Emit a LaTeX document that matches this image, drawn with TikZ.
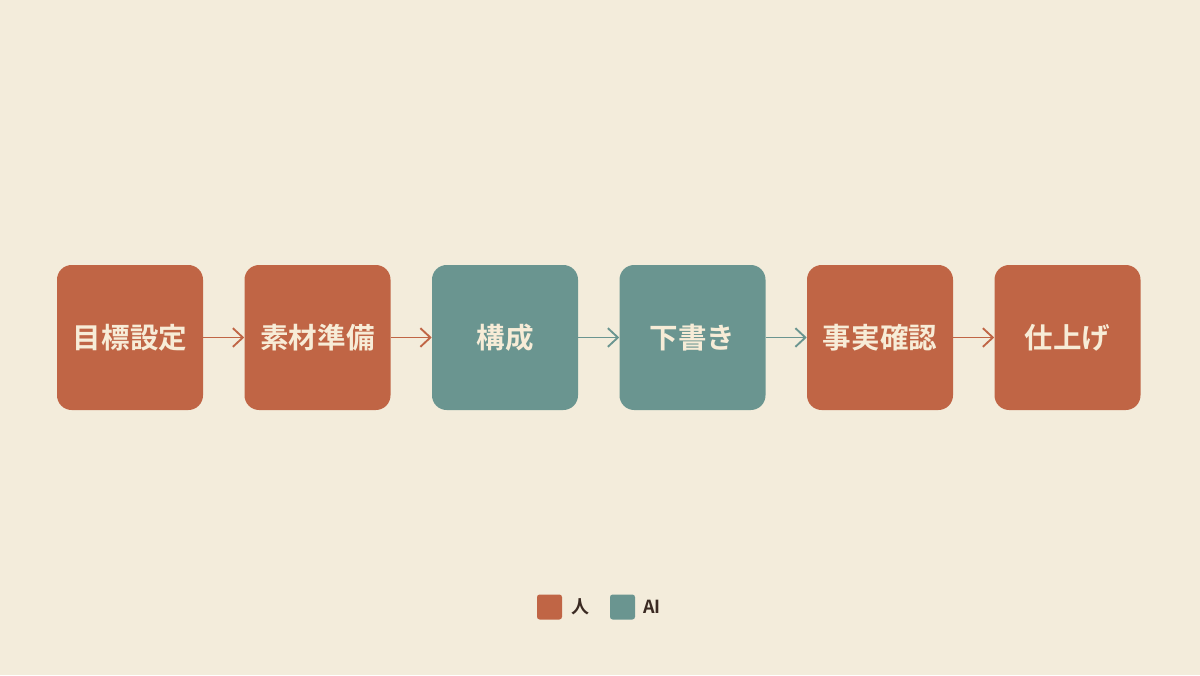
\documentclass[tikz,border=0pt]{standalone}
\usepackage{fontspec}
\usepackage{xcolor}
\usepackage{tikz}
\usetikzlibrary{arrows.meta}
\usetikzlibrary{positioning}
\newfontfamily\jpbold{Noto Sans CJK JP Bold}
\definecolor{bgcream}{RGB}{243,236,219}
\definecolor{human}{RGB}{192,101,69}
\definecolor{aiteal}{RGB}{106,149,144}
\definecolor{boxtext}{RGB}{247,236,215}
\definecolor{legendtext}{RGB}{58,42,34}
\begin{document}
\begin{tikzpicture}[x=0.75pt,y=0.75pt,yscale=-1,xscale=1,
  stepbox/.style={rounded corners=11pt,minimum width=109.5pt,minimum height=108.75pt,inner sep=0pt,text=boxtext,font=\jpbold\fontsize{21.4}{25}\selectfont},
  humanbox/.style={stepbox,fill=human},
  aibox/.style={stepbox,fill=aiteal},
  flow/.style={line width=1.4pt,-{Straight Barb[length=7.5pt,width=14pt,line width=1.4pt]}},
  keybox/.style={rounded corners=2pt,minimum width=18.75pt,minimum height=18.75pt,inner sep=0pt},
  keytext/.style={text=legendtext,inner sep=0pt,font=\jpbold\fontsize{13.5}{16}\selectfont}]
%background
\fill [bgcream] (0,0) rectangle (1200,675);
\useasboundingbox (0,0) rectangle (1200,675);

% Steps
\node [humanbox] (goal) at (130,337.5) {目標設定};
\node [humanbox] (material) at (317.5,337.5) {素材準備};
\node [aibox] (structure) at (505,337.5) {構成};
\node [aibox] (draft) at (692.5,337.5) {下書き};
\node [humanbox] (factcheck) at (880,337.5) {事実確認};
\node [humanbox] (finish) at (1067.5,337.5) {仕上げ};

% Arrows
\draw [flow,human] (goal) -- (material);
\draw [flow,human] (material) -- (structure);
\draw [flow,aiteal] (structure) -- (draft);
\draw [flow,aiteal] (draft) -- (factcheck);
\draw [flow,human] (factcheck) -- (finish);

% Legend
\node [keybox,fill=human] (keyhuman) at (549.5,607) {};
\node [keytext,anchor=west] (keyhumanlabel) at (571,607) {人};
\node [keybox,fill=aiteal] (keyai) at (622.5,607) {};
\node [keytext,anchor=west] (keyailabel) at (643,607) {AI};

\end{tikzpicture}
\end{document}
